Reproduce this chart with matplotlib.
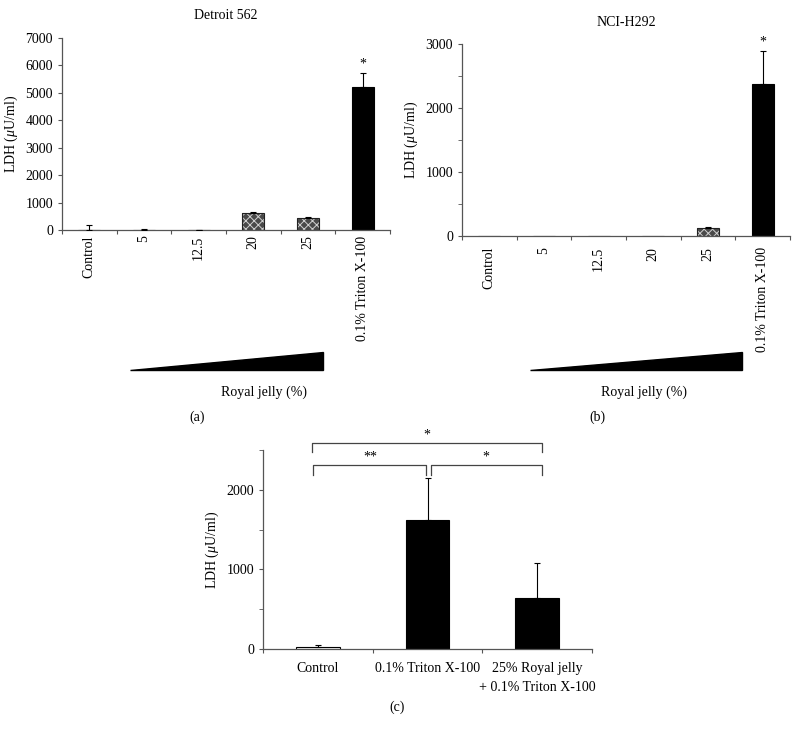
import numpy as np
import matplotlib
matplotlib.use("Agg")
import matplotlib.pyplot as plt
from matplotlib.patches import Polygon
from matplotlib.transforms import blended_transform_factory

plt.rcParams['font.family'] = ['Liberation Serif', 'DejaVu Serif']
plt.rcParams['mathtext.fontset'] = 'custom'
plt.rcParams['mathtext.it'] = 'Liberation Serif:italic'
plt.rcParams['mathtext.rm'] = 'Liberation Serif'
plt.rcParams['hatch.linewidth'] = 0.7

# panel (a) Detroit 562
cats_ab = ['Control', '5', '12.5', '20', '25', '0.1% Triton X-100']
det_vals = [10, 15, 5, 630, 430, 5220]
det_err = [180, 30, 5, 20, 40, 520]
det_style = ['white', 'white', 'white', 'hatch', 'hatch', 'black']

# panel (b) NCI-H292
nci_vals = [0, 0, 0, 0, 125, 2370]
nci_err = [0, 0, 0, 0, 15, 520]
nci_style = ['white', 'white', 'white', 'white', 'hatch', 'black']

# panel (c)
cats_c = ['Control', '0.1% Triton X-100', '25% Royal jelly\n+ 0.1% Triton X-100']
c_vals = [25, 1620, 635]
c_err = [20, 525, 450]
c_style = ['white', 'black', 'black']

FS = 10
YLAB = r'LDH ($\mathit{\mu}$U/ml)'
AX_COL = '#555555'


def style_axes(ax, n):
    for s in ['top', 'right']:
        ax.spines[s].set_visible(False)
    for s in ['left', 'bottom']:
        ax.spines[s].set_color(AX_COL)
        ax.spines[s].set_linewidth(0.9)
    ax.set_xlim(-0.5, n - 0.5)
    ax.set_xticks(np.arange(n + 1) - 0.5)
    ax.set_xticklabels([])
    ax.tick_params(axis='x', which='major', direction='out', length=3, color=AX_COL)
    ax.tick_params(axis='y', direction='out', length=3, color=AX_COL, labelsize=FS)
    ax.set_ylabel(YLAB, fontsize=FS)


def draw_bars(ax, vals, err, styles, width=0.4):
    x = np.arange(len(vals))
    for xi, v, e, st in zip(x, vals, err, styles):
        if st == 'black':
            ax.bar(xi, v, width, color='black', edgecolor='black', lw=0.8, zorder=2)
        elif st == 'hatch':
            ax.bar(xi, v, width, color='#4a4a4a', edgecolor='#d0d0d0', hatch='xxxx',
                   lw=0, zorder=2)
            ax.bar(xi, v, width, fill=False, edgecolor='#222222', lw=0.8, zorder=2)
        else:
            ax.bar(xi, v, width, color='white', edgecolor='black', lw=0.8, zorder=2)
        if e > 0:
            ax.errorbar(xi, v, yerr=[[0], [e]], color='black', capsize=2.5,
                        elinewidth=0.8, capthick=0.8, zorder=3)


def add_wedge(ax, x0, x1, yb, yt):
    tr = blended_transform_factory(ax.transData, ax.transAxes)
    ax.add_patch(Polygon([[x0, yb], [x1, yb], [x1, yt]], closed=True,
                         color='black', transform=tr, clip_on=False))


fig = plt.figure(figsize=(7.98, 7.34), dpi=100)

# (a)
ax1 = fig.add_axes([0.0777, 0.6866, 0.411, 0.2616])
draw_bars(ax1, det_vals, det_err, det_style)
style_axes(ax1, len(cats_ab))
ax1.set_ylim(0, 7000)
ax1.set_yticks(np.arange(0, 7001, 1000))
ax1.set_xticks(np.arange(len(cats_ab)), cats_ab, minor=True, rotation=90,
               fontsize=FS, va='top')
ax1.tick_params(axis='x', which='minor', length=0, pad=4)
ax1.set_title('Detroit 562', fontsize=FS, pad=14)
ax1.text(5, det_vals[5] + det_err[5] + 80, '*', ha='center', va='bottom', fontsize=FS)
add_wedge(ax1, 0.74, 4.27, -0.729, -0.635)

# (b)
ax2 = fig.add_axes([0.579, 0.6785, 0.411, 0.2616])
draw_bars(ax2, nci_vals, nci_err, nci_style)
style_axes(ax2, len(cats_ab))
ax2.set_ylim(0, 3000)
ax2.set_yticks(np.arange(0, 3001, 1000))
ax2.set_yticks(np.arange(500, 3000, 1000), minor=True)
ax2.tick_params(axis='y', which='minor', direction='out', length=3, color=AX_COL)
ax2.set_xticks(np.arange(len(cats_ab)), cats_ab, minor=True, rotation=90,
               fontsize=FS, va='top')
ax2.tick_params(axis='x', which='minor', length=0, pad=8)
ax2.set_title('NCI-H292', fontsize=FS, pad=13)
ax2.text(5, nci_vals[5] + nci_err[5] + 40, '*', ha='center', va='bottom', fontsize=FS)
add_wedge(ax2, 0.74, 4.63, -0.698, -0.604)

# (c)
ax3 = fig.add_axes([0.3296, 0.1158, 0.4123, 0.2711])
draw_bars(ax3, c_vals, c_err, c_style)
style_axes(ax3, len(cats_c))
ax3.set_ylim(0, 2500)
ax3.set_yticks(np.arange(0, 2001, 1000))
ax3.set_yticks(np.arange(500, 2600, 1000), minor=True)
ax3.tick_params(axis='y', which='minor', direction='out', length=3, color=AX_COL)
ax3.set_xticks(np.arange(len(cats_c)), cats_c, minor=True, fontsize=FS,
               linespacing=1.6, va='top')
ax3.tick_params(axis='x', which='minor', length=0, pad=9)


def bracket(ax, x0, x1, y, drop, label):
    ax.plot([x0, x0, x1, x1], [y - drop, y, y, y - drop], color='#444444',
            lw=0.9, clip_on=False)
    ax.text((x0 + x1) / 2, y + 15, label, ha='center', va='bottom', fontsize=FS)


bracket(ax3, -0.05, 2.04, 2590, 120, '*')
bracket(ax3, -0.04, 0.99, 2310, 120, '**')
bracket(ax3, 1.03, 2.04, 2310, 120, '*')

# annotations
fig.text(264 / 798, 1 - 392 / 734, 'Royal jelly (%)', ha='center', va='center', fontsize=FS)
fig.text(644 / 798, 1 - 392 / 734, 'Royal jelly (%)', ha='center', va='center', fontsize=FS)
fig.text(197 / 798, 1 - 417 / 734, '(a)', ha='center', va='center', fontsize=FS)
fig.text(597 / 798, 1 - 417 / 734, '(b)', ha='center', va='center', fontsize=FS)
fig.text(397 / 798, 1 - 707 / 734, '(c)', ha='center', va='center', fontsize=FS)

fig.savefig('out.png', dpi=100)
